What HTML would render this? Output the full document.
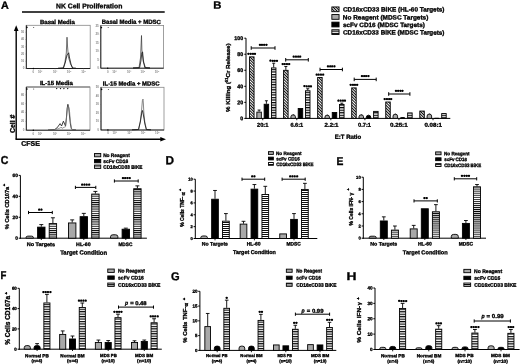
<!DOCTYPE html><html><head><meta charset="utf-8"><style>
html,body{margin:0;padding:0;background:#fff;width:520px;height:364px;overflow:hidden}
svg{display:block;filter:grayscale(1) blur(0.35px)} text{font-family:"Liberation Sans", sans-serif;font-weight:bold;stroke:#000;stroke-width:0.32px;paint-order:stroke}
</style></head><body>
<svg width="520" height="364" viewBox="0 0 520 364" xmlns="http://www.w3.org/2000/svg">
<defs>
<pattern id="hs" patternUnits="userSpaceOnUse" width="8" height="2.45" y="0"><rect width="8" height="2.45" fill="#fff"/><rect width="8" height="1.15" fill="#000"/></pattern><pattern id="hsB" patternUnits="userSpaceOnUse" width="8" height="2.55" y="0"><rect width="8" height="2.55" fill="#fff"/><rect width="8" height="1.20" fill="#000"/></pattern><pattern id="hsC" patternUnits="userSpaceOnUse" width="8" height="2.15" y="0"><rect width="8" height="2.15" fill="#fff"/><rect width="8" height="1.01" fill="#000"/></pattern><pattern id="hsD" patternUnits="userSpaceOnUse" width="8" height="2.0" y="0"><rect width="8" height="2.0" fill="#fff"/><rect width="8" height="0.94" fill="#000"/></pattern><pattern id="hsE" patternUnits="userSpaceOnUse" width="8" height="2.05" y="0"><rect width="8" height="2.05" fill="#fff"/><rect width="8" height="0.96" fill="#000"/></pattern><pattern id="hsF" patternUnits="userSpaceOnUse" width="8" height="2.45" y="0"><rect width="8" height="2.45" fill="#fff"/><rect width="8" height="1.15" fill="#000"/></pattern><pattern id="hsG" patternUnits="userSpaceOnUse" width="8" height="2.4" y="0"><rect width="8" height="2.4" fill="#fff"/><rect width="8" height="1.13" fill="#000"/></pattern><pattern id="hsH" patternUnits="userSpaceOnUse" width="8" height="2.47" y="0"><rect width="8" height="2.47" fill="#fff"/><rect width="8" height="1.16" fill="#000"/></pattern>
<pattern id="dh" patternUnits="userSpaceOnUse" width="2.0" height="2.0" patternTransform="rotate(-45)"><rect width="2.0" height="2.0" fill="#fff"/><rect width="0.95" height="2.0" fill="#000"/></pattern>
</defs>
<rect width="520" height="364" fill="#fff"/>

<text x="0.98" y="8.70" font-size="10.40" textLength="7.76" lengthAdjust="spacingAndGlyphs" transform="rotate(0.05 0.98 8.70)">A</text>
<line x1="22.00" y1="12.00" x2="164.70" y2="12.00" stroke="#000" stroke-width="1.3"/>
<text x="55.99" y="8.31" font-size="6.70" textLength="66.38" lengthAdjust="spacingAndGlyphs" transform="rotate(0.05 55.99 8.31)">NK Cell Proliferation</text>
<line x1="16.20" y1="30.00" x2="16.20" y2="139.20" stroke="#000" stroke-width="1.4"/>
<path d="M16.2,25.3 L13.9,31 L18.5,31 Z" fill="#000"/>
<line x1="15.50" y1="139.20" x2="161.00" y2="139.20" stroke="#000" stroke-width="1.4"/>
<path d="M166,139.2 L160.3,136.9 L160.3,141.5 Z" fill="#000"/>
<text x="0" y="0" font-size="6.50" textLength="18.49" lengthAdjust="spacingAndGlyphs" transform="translate(14.56,133.03) rotate(-90)">Cell #</text>
<text x="21.27" y="145.72" font-size="6.70" textLength="18.55" lengthAdjust="spacingAndGlyphs" transform="rotate(0.05 21.27 145.72)">CFSE</text>
<rect x="26.3" y="25.3" width="63.900000000000006" height="43.2" fill="none" stroke="#888" stroke-width="0.8"/>
<line x1="26.30" y1="25.30" x2="26.30" y2="68.50" stroke="#000" stroke-width="0.8"/>
<line x1="26.30" y1="68.50" x2="90.20" y2="68.50" stroke="#000" stroke-width="0.8"/>
<text x="39.94" y="23.93" font-size="5.90" textLength="34.86" lengthAdjust="spacingAndGlyphs" transform="rotate(0.05 39.94 23.93)">Basal Media</text>
<text x="24.30" y="69.40" font-size="3.0" text-anchor="end" fill="#888" style="stroke:none">0</text>
<line x1="25.30" y1="68.50" x2="26.30" y2="68.50" stroke="#666" stroke-width="0.4"/>
<text x="24.30" y="62.15" font-size="3.0" text-anchor="end" fill="#888" style="stroke:none">10</text>
<line x1="25.30" y1="61.25" x2="26.30" y2="61.25" stroke="#666" stroke-width="0.4"/>
<text x="24.30" y="54.90" font-size="3.0" text-anchor="end" fill="#888" style="stroke:none">20</text>
<line x1="25.30" y1="54.00" x2="26.30" y2="54.00" stroke="#666" stroke-width="0.4"/>
<text x="24.30" y="47.65" font-size="3.0" text-anchor="end" fill="#888" style="stroke:none">30</text>
<line x1="25.30" y1="46.75" x2="26.30" y2="46.75" stroke="#666" stroke-width="0.4"/>
<text x="24.30" y="40.40" font-size="3.0" text-anchor="end" fill="#888" style="stroke:none">40</text>
<line x1="25.30" y1="39.50" x2="26.30" y2="39.50" stroke="#666" stroke-width="0.4"/>
<text x="24.30" y="33.15" font-size="3.0" text-anchor="end" fill="#888" style="stroke:none">50</text>
<line x1="25.30" y1="32.25" x2="26.30" y2="32.25" stroke="#666" stroke-width="0.4"/>
<text x="33.33" y="72.90" font-size="2.9" text-anchor="middle" fill="#888" style="stroke:none">0</text>
<line x1="33.33" y1="68.50" x2="33.33" y2="69.40" stroke="#666" stroke-width="0.4"/>
<text x="40.04" y="72.90" font-size="2.9" text-anchor="middle" fill="#888" style="stroke:none">10²</text>
<line x1="40.04" y1="68.50" x2="40.04" y2="69.40" stroke="#666" stroke-width="0.4"/>
<text x="55.06" y="72.90" font-size="2.9" text-anchor="middle" fill="#888" style="stroke:none">10³</text>
<line x1="55.06" y1="68.50" x2="55.06" y2="69.40" stroke="#666" stroke-width="0.4"/>
<text x="69.11" y="72.90" font-size="2.9" text-anchor="middle" fill="#888" style="stroke:none">10⁴</text>
<line x1="69.11" y1="68.50" x2="69.11" y2="69.40" stroke="#666" stroke-width="0.4"/>
<text x="83.49" y="72.90" font-size="2.9" text-anchor="middle" fill="#888" style="stroke:none">10⁵</text>
<line x1="83.49" y1="68.50" x2="83.49" y2="69.40" stroke="#666" stroke-width="0.4"/>
<circle cx="26.900000000000002" cy="27.400000000000002" r="0.8" fill="#000"/>
<circle cx="33.7" cy="27.400000000000002" r="0.5" fill="#333"/>
<circle cx="33.329" cy="68.5" r="0.7" fill="#000"/>
<rect x="100.8" y="25.5" width="62.8" height="42.7" fill="none" stroke="#888" stroke-width="0.8"/>
<line x1="100.80" y1="25.50" x2="100.80" y2="68.20" stroke="#000" stroke-width="0.8"/>
<line x1="100.80" y1="68.20" x2="163.60" y2="68.20" stroke="#000" stroke-width="0.8"/>
<text x="101.75" y="23.83" font-size="5.90" textLength="59.17" lengthAdjust="spacingAndGlyphs" transform="rotate(0.05 101.75 23.83)">Basal Media + MDSC</text>
<text x="98.80" y="69.10" font-size="3.0" text-anchor="end" fill="#888" style="stroke:none">0</text>
<line x1="99.80" y1="68.20" x2="100.80" y2="68.20" stroke="#666" stroke-width="0.4"/>
<text x="98.80" y="60.60" font-size="3.0" text-anchor="end" fill="#888" style="stroke:none">5</text>
<line x1="99.80" y1="59.70" x2="100.80" y2="59.70" stroke="#666" stroke-width="0.4"/>
<text x="98.80" y="52.10" font-size="3.0" text-anchor="end" fill="#888" style="stroke:none">10</text>
<line x1="99.80" y1="51.20" x2="100.80" y2="51.20" stroke="#666" stroke-width="0.4"/>
<text x="98.80" y="43.60" font-size="3.0" text-anchor="end" fill="#888" style="stroke:none">15</text>
<line x1="99.80" y1="42.70" x2="100.80" y2="42.70" stroke="#666" stroke-width="0.4"/>
<text x="98.80" y="35.10" font-size="3.0" text-anchor="end" fill="#888" style="stroke:none">20</text>
<line x1="99.80" y1="34.20" x2="100.80" y2="34.20" stroke="#666" stroke-width="0.4"/>
<text x="98.80" y="26.60" font-size="3.0" text-anchor="end" fill="#888" style="stroke:none">25</text>
<line x1="99.80" y1="25.70" x2="100.80" y2="25.70" stroke="#666" stroke-width="0.4"/>
<text x="107.71" y="72.60" font-size="2.9" text-anchor="middle" fill="#888" style="stroke:none">0</text>
<line x1="107.71" y1="68.20" x2="107.71" y2="69.10" stroke="#666" stroke-width="0.4"/>
<text x="114.30" y="72.60" font-size="2.9" text-anchor="middle" fill="#888" style="stroke:none">10²</text>
<line x1="114.30" y1="68.20" x2="114.30" y2="69.10" stroke="#666" stroke-width="0.4"/>
<text x="129.06" y="72.60" font-size="2.9" text-anchor="middle" fill="#888" style="stroke:none">10³</text>
<line x1="129.06" y1="68.20" x2="129.06" y2="69.10" stroke="#666" stroke-width="0.4"/>
<text x="142.88" y="72.60" font-size="2.9" text-anchor="middle" fill="#888" style="stroke:none">10⁴</text>
<line x1="142.88" y1="68.20" x2="142.88" y2="69.10" stroke="#666" stroke-width="0.4"/>
<text x="157.01" y="72.60" font-size="2.9" text-anchor="middle" fill="#888" style="stroke:none">10⁵</text>
<line x1="157.01" y1="68.20" x2="157.01" y2="69.10" stroke="#666" stroke-width="0.4"/>
<circle cx="101.39999999999999" cy="27.6" r="0.8" fill="#000"/>
<circle cx="108.2" cy="27.6" r="0.5" fill="#333"/>
<circle cx="107.708" cy="68.2" r="0.7" fill="#000"/>
<line x1="26.30" y1="87.00" x2="90.00" y2="87.00" stroke="#666" stroke-width="1.0"/>
<rect x="26.3" y="87.0" width="63.7" height="43.19999999999999" fill="none" stroke="#888" stroke-width="0.8"/>
<line x1="26.30" y1="87.00" x2="26.30" y2="130.20" stroke="#000" stroke-width="0.8"/>
<line x1="26.30" y1="130.20" x2="90.00" y2="130.20" stroke="#000" stroke-width="0.8"/>
<text x="39.94" y="84.93" font-size="5.90" textLength="32.97" lengthAdjust="spacingAndGlyphs" transform="rotate(0.05 39.94 84.93)">IL-15 Media</text>
<text x="24.30" y="131.10" font-size="3.0" text-anchor="end" fill="#888" style="stroke:none">0</text>
<line x1="25.30" y1="130.20" x2="26.30" y2="130.20" stroke="#666" stroke-width="0.4"/>
<text x="24.30" y="122.25" font-size="3.0" text-anchor="end" fill="#888" style="stroke:none">20</text>
<line x1="25.30" y1="121.35" x2="26.30" y2="121.35" stroke="#666" stroke-width="0.4"/>
<text x="24.30" y="113.40" font-size="3.0" text-anchor="end" fill="#888" style="stroke:none">40</text>
<line x1="25.30" y1="112.50" x2="26.30" y2="112.50" stroke="#666" stroke-width="0.4"/>
<text x="24.30" y="104.55" font-size="3.0" text-anchor="end" fill="#888" style="stroke:none">60</text>
<line x1="25.30" y1="103.65" x2="26.30" y2="103.65" stroke="#666" stroke-width="0.4"/>
<text x="24.30" y="95.70" font-size="3.0" text-anchor="end" fill="#888" style="stroke:none">80</text>
<line x1="25.30" y1="94.80" x2="26.30" y2="94.80" stroke="#666" stroke-width="0.4"/>
<text x="33.31" y="134.60" font-size="2.9" text-anchor="middle" fill="#888" style="stroke:none">0</text>
<line x1="33.31" y1="130.20" x2="33.31" y2="131.10" stroke="#666" stroke-width="0.4"/>
<text x="40.00" y="134.60" font-size="2.9" text-anchor="middle" fill="#888" style="stroke:none">10²</text>
<line x1="40.00" y1="130.20" x2="40.00" y2="131.10" stroke="#666" stroke-width="0.4"/>
<text x="54.97" y="134.60" font-size="2.9" text-anchor="middle" fill="#888" style="stroke:none">10³</text>
<line x1="54.97" y1="130.20" x2="54.97" y2="131.10" stroke="#666" stroke-width="0.4"/>
<text x="68.98" y="134.60" font-size="2.9" text-anchor="middle" fill="#888" style="stroke:none">10⁴</text>
<line x1="68.98" y1="130.20" x2="68.98" y2="131.10" stroke="#666" stroke-width="0.4"/>
<text x="83.31" y="134.60" font-size="2.9" text-anchor="middle" fill="#888" style="stroke:none">10⁵</text>
<line x1="83.31" y1="130.20" x2="83.31" y2="131.10" stroke="#666" stroke-width="0.4"/>
<circle cx="26.900000000000002" cy="89.1" r="0.8" fill="#000"/>
<circle cx="33.7" cy="89.1" r="0.5" fill="#333"/>
<circle cx="33.307" cy="130.2" r="0.7" fill="#000"/>
<rect x="101.0" y="87.3" width="63.0" height="42.7" fill="none" stroke="#888" stroke-width="0.8"/>
<line x1="101.00" y1="87.30" x2="101.00" y2="130.00" stroke="#000" stroke-width="0.8"/>
<line x1="101.00" y1="130.00" x2="164.00" y2="130.00" stroke="#000" stroke-width="0.8"/>
<text x="102.85" y="85.43" font-size="5.90" textLength="56.77" lengthAdjust="spacingAndGlyphs" transform="rotate(0.05 102.85 85.43)">IL-15 Media + MDSC</text>
<text x="99.00" y="130.90" font-size="3.0" text-anchor="end" fill="#888" style="stroke:none">0</text>
<line x1="100.00" y1="130.00" x2="101.00" y2="130.00" stroke="#666" stroke-width="0.4"/>
<text x="99.00" y="122.40" font-size="3.0" text-anchor="end" fill="#888" style="stroke:none">10</text>
<line x1="100.00" y1="121.50" x2="101.00" y2="121.50" stroke="#666" stroke-width="0.4"/>
<text x="99.00" y="113.90" font-size="3.0" text-anchor="end" fill="#888" style="stroke:none">20</text>
<line x1="100.00" y1="113.00" x2="101.00" y2="113.00" stroke="#666" stroke-width="0.4"/>
<text x="99.00" y="105.40" font-size="3.0" text-anchor="end" fill="#888" style="stroke:none">30</text>
<line x1="100.00" y1="104.50" x2="101.00" y2="104.50" stroke="#666" stroke-width="0.4"/>
<text x="99.00" y="96.90" font-size="3.0" text-anchor="end" fill="#888" style="stroke:none">40</text>
<line x1="100.00" y1="96.00" x2="101.00" y2="96.00" stroke="#666" stroke-width="0.4"/>
<text x="99.00" y="88.40" font-size="3.0" text-anchor="end" fill="#888" style="stroke:none">50</text>
<line x1="100.00" y1="87.50" x2="101.00" y2="87.50" stroke="#666" stroke-width="0.4"/>
<text x="107.93" y="134.40" font-size="2.9" text-anchor="middle" fill="#888" style="stroke:none">0</text>
<line x1="107.93" y1="130.00" x2="107.93" y2="130.90" stroke="#666" stroke-width="0.4"/>
<text x="114.55" y="134.40" font-size="2.9" text-anchor="middle" fill="#888" style="stroke:none">10²</text>
<line x1="114.55" y1="130.00" x2="114.55" y2="130.90" stroke="#666" stroke-width="0.4"/>
<text x="129.35" y="134.40" font-size="2.9" text-anchor="middle" fill="#888" style="stroke:none">10³</text>
<line x1="129.35" y1="130.00" x2="129.35" y2="130.90" stroke="#666" stroke-width="0.4"/>
<text x="143.21" y="134.40" font-size="2.9" text-anchor="middle" fill="#888" style="stroke:none">10⁴</text>
<line x1="143.21" y1="130.00" x2="143.21" y2="130.90" stroke="#666" stroke-width="0.4"/>
<text x="157.38" y="134.40" font-size="2.9" text-anchor="middle" fill="#888" style="stroke:none">10⁵</text>
<line x1="157.38" y1="130.00" x2="157.38" y2="130.90" stroke="#666" stroke-width="0.4"/>
<circle cx="101.6" cy="89.39999999999999" r="0.8" fill="#000"/>
<circle cx="108.4" cy="89.39999999999999" r="0.5" fill="#333"/>
<circle cx="107.93" cy="130.0" r="0.7" fill="#000"/>
<path d="M58.00,68.30 L63.20,68.00 L64.80,63.00 L66.30,53.00 L67.00,37.20 L67.50,46.00 L68.40,57.00 L70.50,64.00 L72.60,68.00 L76.00,68.30" fill="none" stroke="#333" stroke-width="0.7" stroke-linejoin="round"/>
<path d="M58.00,68.30 L63.50,68.00 L65.40,62.00 L67.00,55.00 L68.70,52.80 L69.60,58.00 L71.00,64.20 L72.60,68.10 L76.00,68.30" fill="none" stroke="#111" stroke-width="0.8" stroke-linejoin="round"/>
<path d="M133.00,68.00 L139.00,67.70 L140.50,58.00 L141.50,35.50 L141.90,50.00 L143.30,62.00 L145.60,67.70 L150.00,68.00" fill="none" stroke="#333" stroke-width="0.7" stroke-linejoin="round"/>
<path d="M133.00,68.00 L139.60,67.70 L140.90,61.00 L141.90,52.50 L142.60,52.00 L143.30,60.00 L144.80,67.70 L150.00,68.00" fill="none" stroke="#111" stroke-width="0.8" stroke-linejoin="round"/>
<path d="M48.00,130.00 L54.70,129.50 L57.10,127.80 L60.10,123.60 L61.60,126.00 L63.40,121.20 L65.50,126.00 L66.40,118.00 L67.20,108.00 L67.90,104.30 L68.80,108.00 L69.50,116.00 L70.40,124.00 L71.30,128.70 L72.50,129.60 L76.00,130.00" fill="none" stroke="#111" stroke-width="0.8" stroke-linejoin="round"/>
<path d="M48.00,130.00 L55.00,129.60 L58.00,128.80 L60.50,127.80 L61.20,127.00 L62.00,128.40 L64.00,127.30 L65.50,126.80 L66.30,120.00 L67.40,108.00 L68.40,105.50 L69.60,112.00 L70.60,123.00 L71.80,129.50 L76.00,130.00" fill="none" stroke="#777" stroke-width="0.7" stroke-linejoin="round"/>
<path d="M132.00,129.80 L138.40,129.50 L140.20,122.00 L141.60,110.00 L142.40,100.50 L143.00,99.10 L143.40,104.00 L143.80,112.00 L144.80,122.00 L146.50,129.50 L151.00,129.80" fill="none" stroke="#555" stroke-width="0.7" stroke-linejoin="round"/>
<path d="M132.00,129.80 L138.60,129.50 L140.50,121.00 L141.90,112.00 L142.50,110.50 L143.20,114.00 L143.90,118.00 L144.90,124.00 L146.30,129.50 L151.00,129.80" fill="none" stroke="#111" stroke-width="0.8" stroke-linejoin="round"/>
<path d="M55.90,88.0 L57.50,88.0 L56.70,89.5 Z" fill="#000"/>
<path d="M59.70,88.0 L61.30,88.0 L60.50,89.5 Z" fill="#000"/>
<path d="M63.10,88.0 L64.70,88.0 L63.90,89.5 Z" fill="#000"/>
<path d="M66.90,88.0 L68.50,88.0 L67.70,89.5 Z" fill="#000"/>
<text x="213.29" y="8.46" font-size="10.20" textLength="8.17" lengthAdjust="spacingAndGlyphs" transform="rotate(0.05 213.29 8.46)">B</text>
<line x1="246.00" y1="38.20" x2="246.00" y2="118.90" stroke="#000" stroke-width="1.0"/>
<line x1="244.30" y1="118.40" x2="246.00" y2="118.40" stroke="#000" stroke-width="1.0"/>
<text x="240.27" y="120.22" font-size="5.30" transform="rotate(0.05 240.27 120.22)">0</text>
<line x1="244.30" y1="102.36" x2="246.00" y2="102.36" stroke="#000" stroke-width="1.0"/>
<text x="237.33" y="104.18" font-size="5.30" transform="rotate(0.05 237.33 104.18)">20</text>
<line x1="244.30" y1="86.32" x2="246.00" y2="86.32" stroke="#000" stroke-width="1.0"/>
<text x="237.33" y="88.14" font-size="5.30" transform="rotate(0.05 237.33 88.14)">40</text>
<line x1="244.30" y1="70.28" x2="246.00" y2="70.28" stroke="#000" stroke-width="1.0"/>
<text x="237.33" y="72.10" font-size="5.30" transform="rotate(0.05 237.33 72.10)">60</text>
<line x1="244.30" y1="54.24" x2="246.00" y2="54.24" stroke="#000" stroke-width="1.0"/>
<text x="237.33" y="56.06" font-size="5.30" transform="rotate(0.05 237.33 56.06)">80</text>
<line x1="244.30" y1="38.20" x2="246.00" y2="38.20" stroke="#000" stroke-width="1.0"/>
<text x="234.37" y="40.02" font-size="5.30" transform="rotate(0.05 234.37 40.02)">100</text>
<line x1="245.50" y1="118.40" x2="450.30" y2="118.40" stroke="#000" stroke-width="1.0"/>
<text x="0" y="0" font-size="6.0" transform="translate(229.90,111.95) rotate(-90) scale(1.0355,1)">% Killing (<tspan font-size="3.9" dy="-2.0">51</tspan><tspan dy="2.0">Cr Release)</tspan></text>
<rect x="249.55" y="56.86" width="4.50" height="61.54" fill="url(#dh)" stroke="#000" stroke-width="0.9"/>
<text x="247.61" y="56.31" font-size="4.80" letter-spacing="0.30" style="stroke-width:0.5px" transform="rotate(0.05 247.61 56.31)">****</text>
<rect x="256.85" y="112.11" width="4.50" height="6.29" fill="#a8a8a8" stroke="#000" stroke-width="0.9"/>
<line x1="259.10" y1="111.66" x2="259.10" y2="110.06" stroke="#000" stroke-width="0.9"/>
<line x1="257.60" y1="110.06" x2="260.60" y2="110.06" stroke="#000" stroke-width="0.9"/>
<rect x="264.15" y="104.25" width="4.50" height="14.15" fill="#000" stroke="#000" stroke-width="0.9"/>
<line x1="266.40" y1="103.80" x2="266.40" y2="100.76" stroke="#000" stroke-width="0.9"/>
<line x1="264.90" y1="100.76" x2="267.90" y2="100.76" stroke="#000" stroke-width="0.9"/>
<rect x="271.45" y="67.92" width="4.50" height="50.48" fill="url(#hsB)" stroke="#000" stroke-width="0.9"/>
<line x1="273.70" y1="67.47" x2="273.70" y2="63.22" stroke="#000" stroke-width="0.9"/>
<line x1="272.20" y1="63.22" x2="275.20" y2="63.22" stroke="#000" stroke-width="0.9"/>
<text x="269.51" y="63.13" font-size="4.80" letter-spacing="0.30" style="stroke-width:0.5px" transform="rotate(0.05 269.51 63.13)">****</text>
<line x1="262.75" y1="118.40" x2="262.75" y2="120.20" stroke="#000" stroke-width="0.9"/>
<text x="257.05" y="126.76" font-size="5.60" textLength="11.36" lengthAdjust="spacingAndGlyphs" transform="rotate(0.05 257.05 126.76)">20:1</text>
<rect x="283.60" y="70.33" width="4.50" height="48.07" fill="url(#dh)" stroke="#000" stroke-width="0.9"/>
<line x1="285.85" y1="69.88" x2="285.85" y2="66.51" stroke="#000" stroke-width="0.9"/>
<line x1="284.35" y1="66.51" x2="287.35" y2="66.51" stroke="#000" stroke-width="0.9"/>
<text x="281.66" y="66.42" font-size="4.80" letter-spacing="0.30" style="stroke-width:0.5px" transform="rotate(0.05 281.66 66.42)">****</text>
<path d="M290.90,118.40 L290.90,116.76 Q290.90,114.76 293.30,114.76 L293.00,114.76 Q295.40,114.76 295.40,116.76 L295.40,118.40 Z" fill="#a8a8a8" stroke="#000" stroke-width="0.9"/>
<rect x="298.20" y="108.50" width="4.50" height="9.90" fill="#000" stroke="#000" stroke-width="0.9"/>
<rect x="305.50" y="90.78" width="4.50" height="27.62" fill="url(#hsB)" stroke="#000" stroke-width="0.9"/>
<line x1="307.75" y1="90.33" x2="307.75" y2="88.73" stroke="#000" stroke-width="0.9"/>
<line x1="306.25" y1="88.73" x2="309.25" y2="88.73" stroke="#000" stroke-width="0.9"/>
<text x="303.56" y="88.63" font-size="4.80" letter-spacing="0.30" style="stroke-width:0.5px" transform="rotate(0.05 303.56 88.63)">****</text>
<line x1="296.80" y1="118.40" x2="296.80" y2="120.20" stroke="#000" stroke-width="0.9"/>
<text x="290.39" y="126.76" font-size="5.60" textLength="12.76" lengthAdjust="spacingAndGlyphs" transform="rotate(0.05 290.39 126.76)">6.6:1</text>
<rect x="317.65" y="77.47" width="4.50" height="40.93" fill="url(#dh)" stroke="#000" stroke-width="0.9"/>
<text x="315.71" y="76.92" font-size="4.80" letter-spacing="0.30" style="stroke-width:0.5px" transform="rotate(0.05 315.71 76.92)">****</text>
<path d="M324.95,118.40 L324.95,117.08 Q324.95,115.08 327.35,115.08 L327.05,115.08 Q329.45,115.08 329.45,117.08 L329.45,118.40 Z" fill="#a8a8a8" stroke="#000" stroke-width="0.9"/>
<rect x="332.25" y="112.51" width="4.50" height="5.89" fill="#000" stroke="#000" stroke-width="0.9"/>
<rect x="339.55" y="104.49" width="4.50" height="13.91" fill="url(#hsB)" stroke="#000" stroke-width="0.9"/>
<line x1="341.80" y1="104.04" x2="341.80" y2="103.16" stroke="#000" stroke-width="0.9"/>
<line x1="340.30" y1="103.16" x2="343.30" y2="103.16" stroke="#000" stroke-width="0.9"/>
<text x="337.61" y="103.07" font-size="4.80" letter-spacing="0.30" style="stroke-width:0.5px" transform="rotate(0.05 337.61 103.07)">****</text>
<line x1="330.85" y1="118.40" x2="330.85" y2="120.20" stroke="#000" stroke-width="0.9"/>
<text x="324.64" y="126.76" font-size="5.60" textLength="13.79" lengthAdjust="spacingAndGlyphs" transform="rotate(0.05 324.64 126.76)">2.2:1</text>
<rect x="351.70" y="87.89" width="4.50" height="30.51" fill="url(#dh)" stroke="#000" stroke-width="0.9"/>
<text x="349.76" y="87.35" font-size="4.80" letter-spacing="0.30" style="stroke-width:0.5px" transform="rotate(0.05 349.76 87.35)">****</text>
<path d="M359.00,118.40 L359.00,116.76 Q359.00,114.76 361.40,114.76 L361.10,114.76 Q363.50,114.76 363.50,116.76 L363.50,118.40 Z" fill="#a8a8a8" stroke="#000" stroke-width="0.9"/>
<path d="M366.30,118.40 L366.30,117.24 Q366.30,115.24 368.70,115.24 L368.40,115.24 Q370.80,115.24 370.80,117.24 L370.80,118.40 Z" fill="#000" stroke="#000" stroke-width="0.9"/>
<rect x="373.60" y="111.39" width="4.50" height="7.01" fill="url(#hsB)" stroke="#000" stroke-width="0.9"/>
<line x1="364.90" y1="118.40" x2="364.90" y2="120.20" stroke="#000" stroke-width="0.9"/>
<text x="358.02" y="126.76" font-size="5.60" textLength="12.89" lengthAdjust="spacingAndGlyphs" transform="rotate(0.05 358.02 126.76)">0.7:1</text>
<rect x="385.75" y="102.01" width="4.50" height="16.39" fill="url(#dh)" stroke="#000" stroke-width="0.9"/>
<text x="383.81" y="101.46" font-size="4.80" letter-spacing="0.30" style="stroke-width:0.5px" transform="rotate(0.05 383.81 101.46)">****</text>
<path d="M393.05,118.40 L393.05,116.12 Q393.05,114.12 395.45,114.12 L395.15,114.12 Q397.55,114.12 397.55,116.12 L397.55,118.40 Z" fill="#a8a8a8" stroke="#000" stroke-width="0.9"/>
<path d="M400.35,118.40 L400.35,118.34 Q400.35,117.57 401.27,117.57 L403.93,117.57 Q404.85,117.57 404.85,118.34 L404.85,118.40 Z" fill="#000" stroke="#000" stroke-width="0.9"/>
<rect x="407.65" y="112.92" width="4.50" height="5.48" fill="url(#hsB)" stroke="#000" stroke-width="0.9"/>
<line x1="398.95" y1="118.40" x2="398.95" y2="120.20" stroke="#000" stroke-width="0.9"/>
<text x="390.00" y="126.76" font-size="5.60" textLength="17.62" lengthAdjust="spacingAndGlyphs" transform="rotate(0.05 390.00 126.76)">0.25:1</text>
<rect x="419.80" y="111.07" width="4.50" height="7.33" fill="url(#dh)" stroke="#000" stroke-width="0.9"/>
<path d="M427.10,118.40 L427.10,116.04 Q427.10,114.04 429.50,114.04 L429.20,114.04 Q431.60,114.04 431.60,116.04 L431.60,118.40 Z" fill="#a8a8a8" stroke="#000" stroke-width="0.9"/>
<path d="M434.40,118.40 L434.40,118.73 Q434.40,118.37 434.83,118.37 L438.47,118.37 Q438.90,118.37 438.90,118.73 L438.90,118.40 Z" fill="#000" stroke="#000" stroke-width="0.9"/>
<rect x="441.70" y="113.56" width="4.50" height="4.84" fill="url(#hsB)" stroke="#000" stroke-width="0.9"/>
<line x1="433.00" y1="118.40" x2="433.00" y2="120.20" stroke="#000" stroke-width="0.9"/>
<text x="424.40" y="126.76" font-size="5.60" textLength="17.52" lengthAdjust="spacingAndGlyphs" transform="rotate(0.05 424.40 126.76)">0.08:1</text>
<text x="334.84" y="138.66" font-size="5.80" textLength="26.34" lengthAdjust="spacingAndGlyphs" transform="rotate(0.05 334.84 138.66)">E:T Ratio</text>
<line x1="251.20" y1="48.00" x2="275.00" y2="48.00" stroke="#000" stroke-width="1.0"/>
<line x1="251.20" y1="46.20" x2="251.20" y2="49.80" stroke="#000" stroke-width="1.0"/>
<line x1="275.00" y1="46.20" x2="275.00" y2="49.80" stroke="#000" stroke-width="1.0"/>
<text x="258.91" y="47.21" font-size="4.80" letter-spacing="0.30" style="stroke-width:0.5px" transform="rotate(0.05 258.91 47.21)">****</text>
<line x1="285.70" y1="59.80" x2="308.30" y2="59.80" stroke="#000" stroke-width="1.0"/>
<line x1="285.70" y1="58.00" x2="285.70" y2="61.60" stroke="#000" stroke-width="1.0"/>
<line x1="308.30" y1="58.00" x2="308.30" y2="61.60" stroke="#000" stroke-width="1.0"/>
<text x="292.81" y="59.01" font-size="4.80" letter-spacing="0.30" style="stroke-width:0.5px" transform="rotate(0.05 292.81 59.01)">****</text>
<line x1="320.00" y1="69.50" x2="342.40" y2="69.50" stroke="#000" stroke-width="1.0"/>
<line x1="320.00" y1="67.70" x2="320.00" y2="71.30" stroke="#000" stroke-width="1.0"/>
<line x1="342.40" y1="67.70" x2="342.40" y2="71.30" stroke="#000" stroke-width="1.0"/>
<text x="327.01" y="68.71" font-size="4.80" letter-spacing="0.30" style="stroke-width:0.5px" transform="rotate(0.05 327.01 68.71)">****</text>
<line x1="354.20" y1="79.40" x2="376.20" y2="79.40" stroke="#000" stroke-width="1.0"/>
<line x1="354.20" y1="77.60" x2="354.20" y2="81.20" stroke="#000" stroke-width="1.0"/>
<line x1="376.20" y1="77.60" x2="376.20" y2="81.20" stroke="#000" stroke-width="1.0"/>
<text x="361.01" y="78.61" font-size="4.80" letter-spacing="0.30" style="stroke-width:0.5px" transform="rotate(0.05 361.01 78.61)">****</text>
<line x1="388.70" y1="94.00" x2="409.90" y2="94.00" stroke="#000" stroke-width="1.0"/>
<line x1="388.70" y1="92.20" x2="388.70" y2="95.80" stroke="#000" stroke-width="1.0"/>
<line x1="409.90" y1="92.20" x2="409.90" y2="95.80" stroke="#000" stroke-width="1.0"/>
<text x="395.11" y="93.21" font-size="4.80" letter-spacing="0.30" style="stroke-width:0.5px" transform="rotate(0.05 395.11 93.21)">****</text>
<rect x="331.85" y="6.95" width="7.20" height="4.75" fill="url(#dh)" stroke="#000" stroke-width="0.9"/>
<text x="342.99" y="11.45" font-size="6.20" textLength="101.48" lengthAdjust="spacingAndGlyphs" transform="rotate(0.05 342.99 11.45)">CD16xCD33 BiKE (HL-60 Targets)</text>
<rect x="331.85" y="14.55" width="7.20" height="4.75" fill="#a8a8a8" stroke="#000" stroke-width="0.9"/>
<text x="342.81" y="19.55" font-size="6.20" textLength="85.56" lengthAdjust="spacingAndGlyphs" transform="rotate(0.05 342.81 19.55)">No Reagent (MDSC Targets)</text>
<rect x="331.85" y="22.15" width="7.20" height="4.75" fill="#000" stroke="#000" stroke-width="0.9"/>
<text x="343.03" y="27.05" font-size="6.20" textLength="81.85" lengthAdjust="spacingAndGlyphs" transform="rotate(0.05 343.03 27.05)">scFv CD16 (MDSC Targets)</text>
<rect x="331.85" y="29.75" width="7.20" height="4.75" fill="url(#hsB)" stroke="#000" stroke-width="0.9"/>
<text x="343.00" y="34.55" font-size="6.20" textLength="101.48" lengthAdjust="spacingAndGlyphs" transform="rotate(0.05 343.00 34.55)">CD16xCD33 BiKE (MDSC Targets)</text>
<text x="0.63" y="164.14" font-size="11.60" textLength="7.61" lengthAdjust="spacingAndGlyphs" transform="rotate(0.05 0.63 164.14)">C</text>
<line x1="20.40" y1="175.40" x2="20.40" y2="238.70" stroke="#000" stroke-width="1.0"/>
<line x1="18.70" y1="238.20" x2="20.40" y2="238.20" stroke="#000" stroke-width="1.0"/>
<text x="15.23" y="239.85" font-size="4.80" transform="rotate(0.05 15.23 239.85)">0</text>
<line x1="18.70" y1="217.27" x2="20.40" y2="217.27" stroke="#000" stroke-width="1.0"/>
<text x="12.56" y="218.92" font-size="4.80" transform="rotate(0.05 12.56 218.92)">20</text>
<line x1="18.70" y1="196.33" x2="20.40" y2="196.33" stroke="#000" stroke-width="1.0"/>
<text x="12.56" y="197.98" font-size="4.80" transform="rotate(0.05 12.56 197.98)">40</text>
<line x1="18.70" y1="175.40" x2="20.40" y2="175.40" stroke="#000" stroke-width="1.0"/>
<text x="12.56" y="177.05" font-size="4.80" transform="rotate(0.05 12.56 177.05)">60</text>
<line x1="19.90" y1="238.20" x2="146.90" y2="238.20" stroke="#000" stroke-width="1.0"/>
<path d="M26.00,238.20 L26.00,237.65 Q26.00,236.14 27.81,236.14 L31.59,236.14 Q33.40,236.14 33.40,237.65 L33.40,238.20 Z" fill="#a8a8a8" stroke="#000" stroke-width="0.9"/>
<rect x="37.60" y="227.14" width="7.40" height="11.06" fill="#000" stroke="#000" stroke-width="0.9"/>
<line x1="41.30" y1="226.69" x2="41.30" y2="224.59" stroke="#000" stroke-width="0.9"/>
<line x1="39.30" y1="224.59" x2="43.30" y2="224.59" stroke="#000" stroke-width="0.9"/>
<rect x="49.20" y="223.58" width="7.40" height="14.62" fill="url(#hsC)" stroke="#000" stroke-width="0.9"/>
<line x1="52.90" y1="223.13" x2="52.90" y2="217.79" stroke="#000" stroke-width="0.9"/>
<line x1="50.90" y1="217.79" x2="54.90" y2="217.79" stroke="#000" stroke-width="0.9"/>
<line x1="41.30" y1="238.20" x2="41.30" y2="240.00" stroke="#000" stroke-width="0.9"/>
<rect x="68.50" y="222.95" width="7.40" height="15.25" fill="#a8a8a8" stroke="#000" stroke-width="0.9"/>
<line x1="72.20" y1="222.50" x2="72.20" y2="219.88" stroke="#000" stroke-width="0.9"/>
<line x1="70.20" y1="219.88" x2="74.20" y2="219.88" stroke="#000" stroke-width="0.9"/>
<rect x="80.10" y="216.67" width="7.40" height="21.53" fill="#000" stroke="#000" stroke-width="0.9"/>
<line x1="83.80" y1="216.22" x2="83.80" y2="213.39" stroke="#000" stroke-width="0.9"/>
<line x1="81.80" y1="213.39" x2="85.80" y2="213.39" stroke="#000" stroke-width="0.9"/>
<rect x="91.70" y="194.06" width="7.40" height="44.14" fill="url(#hsC)" stroke="#000" stroke-width="0.9"/>
<line x1="95.40" y1="193.61" x2="95.40" y2="191.41" stroke="#000" stroke-width="0.9"/>
<line x1="93.40" y1="191.41" x2="97.40" y2="191.41" stroke="#000" stroke-width="0.9"/>
<line x1="83.80" y1="238.20" x2="83.80" y2="240.00" stroke="#000" stroke-width="0.9"/>
<path d="M110.50,238.20 L110.50,236.78 Q110.50,234.78 112.90,234.78 L115.50,234.78 Q117.90,234.78 117.90,236.78 L117.90,238.20 Z" fill="#a8a8a8" stroke="#000" stroke-width="0.9"/>
<rect x="122.10" y="229.23" width="7.40" height="8.97" fill="#000" stroke="#000" stroke-width="0.9"/>
<line x1="125.80" y1="228.78" x2="125.80" y2="228.15" stroke="#000" stroke-width="0.9"/>
<line x1="123.80" y1="228.15" x2="127.80" y2="228.15" stroke="#000" stroke-width="0.9"/>
<rect x="133.70" y="188.72" width="7.40" height="49.48" fill="url(#hsC)" stroke="#000" stroke-width="0.9"/>
<line x1="137.40" y1="188.27" x2="137.40" y2="185.87" stroke="#000" stroke-width="0.9"/>
<line x1="135.40" y1="185.87" x2="139.40" y2="185.87" stroke="#000" stroke-width="0.9"/>
<line x1="125.80" y1="238.20" x2="125.80" y2="240.00" stroke="#000" stroke-width="0.9"/>
<line x1="28.50" y1="212.50" x2="52.30" y2="212.50" stroke="#000" stroke-width="1.0"/>
<line x1="28.50" y1="210.90" x2="28.50" y2="214.10" stroke="#000" stroke-width="1.0"/>
<line x1="52.30" y1="210.90" x2="52.30" y2="214.10" stroke="#000" stroke-width="1.0"/>
<text x="38.30" y="212.01" font-size="4.80" letter-spacing="0.45" style="stroke-width:0.5px" transform="rotate(0.05 38.30 212.01)">**</text>
<line x1="75.40" y1="187.40" x2="95.80" y2="187.40" stroke="#000" stroke-width="1.0"/>
<line x1="75.40" y1="185.80" x2="75.40" y2="189.00" stroke="#000" stroke-width="1.0"/>
<line x1="95.80" y1="185.80" x2="95.80" y2="189.00" stroke="#000" stroke-width="1.0"/>
<text x="81.19" y="186.91" font-size="4.80" letter-spacing="0.45" style="stroke-width:0.5px" transform="rotate(0.05 81.19 186.91)">****</text>
<line x1="114.40" y1="181.00" x2="138.20" y2="181.00" stroke="#000" stroke-width="1.0"/>
<line x1="114.40" y1="179.40" x2="114.40" y2="182.60" stroke="#000" stroke-width="1.0"/>
<line x1="138.20" y1="179.40" x2="138.20" y2="182.60" stroke="#000" stroke-width="1.0"/>
<text x="121.89" y="180.51" font-size="4.80" letter-spacing="0.45" style="stroke-width:0.5px" transform="rotate(0.05 121.89 180.51)">****</text>
<text x="26.78" y="246.12" font-size="5.20" textLength="28.20" lengthAdjust="spacingAndGlyphs" transform="rotate(0.05 26.78 246.12)">No Targets</text>
<text x="76.09" y="246.04" font-size="5.00" textLength="14.67" lengthAdjust="spacingAndGlyphs" transform="rotate(0.05 76.09 246.04)">HL-60</text>
<text x="118.43" y="246.04" font-size="5.00" textLength="13.95" lengthAdjust="spacingAndGlyphs" transform="rotate(0.05 118.43 246.04)">MDSC</text>
<text x="60.19" y="254.60" font-size="6.00" textLength="46.81" lengthAdjust="spacingAndGlyphs" transform="rotate(0.05 60.19 254.60)">Target Condition</text>
<text x="0" y="0" font-size="5.70" textLength="42.41" lengthAdjust="spacingAndGlyphs" transform="translate(8.78,229.19) rotate(-90)">% Cells CD107a</text>
<text x="0" y="0" font-size="4.00" style="stroke-width:0.45px" transform="translate(5.38,186.37) rotate(-90)">+</text>
<rect x="94.55" y="153.45" width="6.20" height="3.35" fill="#a8a8a8" stroke="#000" stroke-width="0.9"/>
<text x="103.13" y="157.02" font-size="5.00" textLength="26.69" lengthAdjust="spacingAndGlyphs" transform="rotate(0.05 103.13 157.02)">No Reagent</text>
<rect x="94.55" y="159.45" width="6.20" height="3.35" fill="#000" stroke="#000" stroke-width="0.9"/>
<text x="103.28" y="163.04" font-size="5.00" textLength="24.95" lengthAdjust="spacingAndGlyphs" transform="rotate(0.05 103.28 163.04)">scFv CD16</text>
<rect x="94.55" y="165.05" width="6.20" height="3.35" fill="url(#hsC)" stroke="#000" stroke-width="0.9"/>
<text x="103.26" y="168.71" font-size="5.00" textLength="39.17" lengthAdjust="spacingAndGlyphs" transform="rotate(0.05 103.26 168.71)">CD16xCD33 BiKE</text>
<text x="165.46" y="164.22" font-size="11.60" textLength="8.49" lengthAdjust="spacingAndGlyphs" transform="rotate(0.05 165.46 164.22)">D</text>
<line x1="195.30" y1="179.20" x2="195.30" y2="239.00" stroke="#000" stroke-width="1.0"/>
<line x1="193.60" y1="238.50" x2="195.30" y2="238.50" stroke="#000" stroke-width="1.0"/>
<text x="190.54" y="239.88" font-size="4.00" transform="rotate(0.05 190.54 239.88)">0</text>
<line x1="193.60" y1="226.64" x2="195.30" y2="226.64" stroke="#000" stroke-width="1.0"/>
<text x="190.54" y="228.03" font-size="4.00" transform="rotate(0.05 190.54 228.03)">2</text>
<line x1="193.60" y1="214.78" x2="195.30" y2="214.78" stroke="#000" stroke-width="1.0"/>
<text x="190.40" y="216.16" font-size="4.00" transform="rotate(0.05 190.40 216.16)">4</text>
<line x1="193.60" y1="202.92" x2="195.30" y2="202.92" stroke="#000" stroke-width="1.0"/>
<text x="190.52" y="204.30" font-size="4.00" transform="rotate(0.05 190.52 204.30)">6</text>
<line x1="193.60" y1="191.06" x2="195.30" y2="191.06" stroke="#000" stroke-width="1.0"/>
<text x="190.50" y="192.44" font-size="4.00" transform="rotate(0.05 190.50 192.44)">8</text>
<line x1="193.60" y1="179.20" x2="195.30" y2="179.20" stroke="#000" stroke-width="1.0"/>
<text x="188.32" y="180.57" font-size="4.00" transform="rotate(0.05 188.32 180.57)">10</text>
<line x1="194.80" y1="238.50" x2="317.30" y2="238.50" stroke="#000" stroke-width="1.0"/>
<path d="M200.75,238.50 L200.75,237.76 Q200.75,235.98 202.88,235.98 L205.32,235.98 Q207.45,235.98 207.45,237.76 L207.45,238.50 Z" fill="#a8a8a8" stroke="#000" stroke-width="0.9"/>
<rect x="211.65" y="199.22" width="6.70" height="39.28" fill="#000" stroke="#000" stroke-width="0.9"/>
<line x1="215.00" y1="198.77" x2="215.00" y2="190.47" stroke="#000" stroke-width="0.9"/>
<line x1="213.10" y1="190.47" x2="216.90" y2="190.47" stroke="#000" stroke-width="0.9"/>
<rect x="222.55" y="221.16" width="6.70" height="17.34" fill="url(#hsD)" stroke="#000" stroke-width="0.9"/>
<line x1="225.90" y1="220.71" x2="225.90" y2="213.59" stroke="#000" stroke-width="0.9"/>
<line x1="224.00" y1="213.59" x2="227.80" y2="213.59" stroke="#000" stroke-width="0.9"/>
<line x1="215.00" y1="238.50" x2="215.00" y2="240.30" stroke="#000" stroke-width="0.9"/>
<rect x="240.15" y="224.12" width="6.70" height="14.37" fill="#a8a8a8" stroke="#000" stroke-width="0.9"/>
<line x1="243.50" y1="223.68" x2="243.50" y2="221.30" stroke="#000" stroke-width="0.9"/>
<line x1="241.60" y1="221.30" x2="245.40" y2="221.30" stroke="#000" stroke-width="0.9"/>
<rect x="251.05" y="189.14" width="6.70" height="49.36" fill="#000" stroke="#000" stroke-width="0.9"/>
<line x1="254.40" y1="188.69" x2="254.40" y2="184.54" stroke="#000" stroke-width="0.9"/>
<line x1="252.50" y1="184.54" x2="256.30" y2="184.54" stroke="#000" stroke-width="0.9"/>
<rect x="261.95" y="194.47" width="6.70" height="44.02" fill="url(#hsD)" stroke="#000" stroke-width="0.9"/>
<line x1="265.30" y1="194.03" x2="265.30" y2="186.32" stroke="#000" stroke-width="0.9"/>
<line x1="263.40" y1="186.32" x2="267.20" y2="186.32" stroke="#000" stroke-width="0.9"/>
<line x1="254.40" y1="238.50" x2="254.40" y2="240.30" stroke="#000" stroke-width="0.9"/>
<rect x="279.75" y="233.91" width="6.70" height="4.59" fill="#a8a8a8" stroke="#000" stroke-width="0.9"/>
<rect x="290.65" y="219.38" width="6.70" height="19.12" fill="#000" stroke="#000" stroke-width="0.9"/>
<line x1="294.00" y1="218.93" x2="294.00" y2="213.59" stroke="#000" stroke-width="0.9"/>
<line x1="292.10" y1="213.59" x2="295.90" y2="213.59" stroke="#000" stroke-width="0.9"/>
<rect x="301.55" y="189.43" width="6.70" height="49.07" fill="url(#hsD)" stroke="#000" stroke-width="0.9"/>
<line x1="304.90" y1="188.98" x2="304.90" y2="183.35" stroke="#000" stroke-width="0.9"/>
<line x1="303.00" y1="183.35" x2="306.80" y2="183.35" stroke="#000" stroke-width="0.9"/>
<line x1="294.00" y1="238.50" x2="294.00" y2="240.30" stroke="#000" stroke-width="0.9"/>
<line x1="242.00" y1="179.20" x2="264.70" y2="179.20" stroke="#000" stroke-width="1.0"/>
<line x1="242.00" y1="177.60" x2="242.00" y2="180.80" stroke="#000" stroke-width="1.0"/>
<line x1="264.70" y1="177.60" x2="264.70" y2="180.80" stroke="#000" stroke-width="1.0"/>
<text x="251.25" y="178.71" font-size="4.80" letter-spacing="0.45" style="stroke-width:0.5px" transform="rotate(0.05 251.25 178.71)">**</text>
<line x1="282.10" y1="179.20" x2="305.20" y2="179.20" stroke="#000" stroke-width="1.0"/>
<line x1="282.10" y1="177.60" x2="282.10" y2="180.80" stroke="#000" stroke-width="1.0"/>
<line x1="305.20" y1="177.60" x2="305.20" y2="180.80" stroke="#000" stroke-width="1.0"/>
<text x="289.24" y="178.71" font-size="4.80" letter-spacing="0.45" style="stroke-width:0.5px" transform="rotate(0.05 289.24 178.71)">****</text>
<text x="201.71" y="245.49" font-size="5.00" textLength="26.26" lengthAdjust="spacingAndGlyphs" transform="rotate(0.05 201.71 245.49)">No Targets</text>
<text x="246.71" y="245.54" font-size="5.00" textLength="13.94" lengthAdjust="spacingAndGlyphs" transform="rotate(0.05 246.71 245.54)">HL-60</text>
<text x="286.52" y="245.54" font-size="5.00" textLength="14.26" lengthAdjust="spacingAndGlyphs" transform="rotate(0.05 286.52 245.54)">MDSC</text>
<text x="233.10" y="254.01" font-size="5.60" textLength="42.78" lengthAdjust="spacingAndGlyphs" transform="rotate(0.05 233.10 254.01)">Target Condition</text>
<text x="0" y="0" font-size="5.00" textLength="30.22" lengthAdjust="spacingAndGlyphs" transform="translate(184.28,226.77) rotate(-90)">% Cells TNF-</text>
<text x="0" y="0" font-size="5.40" transform="translate(184.72,195.44) rotate(-90)">α</text>
<text x="0" y="0" font-size="3.80" style="stroke-width:0.45px" transform="translate(181.17,191.01) rotate(-90)">+</text>
<rect x="268.55" y="151.65" width="4.80" height="2.75" fill="#a8a8a8" stroke="#000" stroke-width="0.9"/>
<text x="276.04" y="154.98" font-size="4.90" textLength="25.57" lengthAdjust="spacingAndGlyphs" transform="rotate(0.05 276.04 154.98)">No Reagent</text>
<rect x="268.55" y="157.15" width="4.80" height="2.75" fill="#000" stroke="#000" stroke-width="0.9"/>
<text x="276.19" y="160.51" font-size="4.90" textLength="23.53" lengthAdjust="spacingAndGlyphs" transform="rotate(0.05 276.19 160.51)">scFv CD16</text>
<rect x="268.55" y="162.55" width="4.80" height="2.75" fill="url(#hsD)" stroke="#000" stroke-width="0.9"/>
<text x="276.17" y="165.98" font-size="4.90" textLength="37.35" lengthAdjust="spacingAndGlyphs" transform="rotate(0.05 276.17 165.98)">CD16xCD33 BiKE</text>
<text x="336.45" y="164.99" font-size="11.40" textLength="6.91" lengthAdjust="spacingAndGlyphs" transform="rotate(0.05 336.45 164.99)">E</text>
<line x1="363.30" y1="177.20" x2="363.30" y2="238.70" stroke="#000" stroke-width="1.0"/>
<line x1="361.60" y1="238.20" x2="363.30" y2="238.20" stroke="#000" stroke-width="1.0"/>
<text x="358.44" y="239.64" font-size="4.20" transform="rotate(0.05 358.44 239.64)">0</text>
<line x1="361.60" y1="226.00" x2="363.30" y2="226.00" stroke="#000" stroke-width="1.0"/>
<text x="358.44" y="227.46" font-size="4.20" transform="rotate(0.05 358.44 227.46)">2</text>
<line x1="361.60" y1="213.80" x2="363.30" y2="213.80" stroke="#000" stroke-width="1.0"/>
<text x="358.29" y="215.24" font-size="4.20" transform="rotate(0.05 358.29 215.24)">4</text>
<line x1="361.60" y1="201.60" x2="363.30" y2="201.60" stroke="#000" stroke-width="1.0"/>
<text x="358.42" y="203.04" font-size="4.20" transform="rotate(0.05 358.42 203.04)">6</text>
<line x1="361.60" y1="189.40" x2="363.30" y2="189.40" stroke="#000" stroke-width="1.0"/>
<text x="358.40" y="190.84" font-size="4.20" transform="rotate(0.05 358.40 190.84)">8</text>
<line x1="361.60" y1="177.20" x2="363.30" y2="177.20" stroke="#000" stroke-width="1.0"/>
<text x="356.11" y="178.64" font-size="4.20" transform="rotate(0.05 356.11 178.64)">10</text>
<line x1="362.80" y1="238.20" x2="486.00" y2="238.20" stroke="#000" stroke-width="1.0"/>
<path d="M369.20,238.20 L369.20,237.67 Q369.20,236.21 370.96,236.21 L374.44,236.21 Q376.20,236.21 376.20,237.67 L376.20,238.20 Z" fill="#a8a8a8" stroke="#000" stroke-width="0.9"/>
<rect x="380.30" y="220.96" width="7.00" height="17.24" fill="#000" stroke="#000" stroke-width="0.9"/>
<line x1="383.80" y1="220.51" x2="383.80" y2="216.85" stroke="#000" stroke-width="0.9"/>
<line x1="381.90" y1="216.85" x2="385.70" y2="216.85" stroke="#000" stroke-width="0.9"/>
<rect x="391.40" y="230.11" width="7.00" height="8.09" fill="url(#hsE)" stroke="#000" stroke-width="0.9"/>
<line x1="394.90" y1="229.66" x2="394.90" y2="226.00" stroke="#000" stroke-width="0.9"/>
<line x1="393.00" y1="226.00" x2="396.80" y2="226.00" stroke="#000" stroke-width="0.9"/>
<line x1="383.80" y1="238.20" x2="383.80" y2="240.00" stroke="#000" stroke-width="0.9"/>
<rect x="410.20" y="228.89" width="7.00" height="9.31" fill="#a8a8a8" stroke="#000" stroke-width="0.9"/>
<line x1="413.70" y1="228.44" x2="413.70" y2="225.39" stroke="#000" stroke-width="0.9"/>
<line x1="411.80" y1="225.39" x2="415.60" y2="225.39" stroke="#000" stroke-width="0.9"/>
<rect x="421.30" y="208.76" width="7.00" height="29.44" fill="#000" stroke="#000" stroke-width="0.9"/>
<rect x="432.40" y="211.81" width="7.00" height="26.39" fill="url(#hsE)" stroke="#000" stroke-width="0.9"/>
<line x1="435.90" y1="211.36" x2="435.90" y2="204.65" stroke="#000" stroke-width="0.9"/>
<line x1="434.00" y1="204.65" x2="437.80" y2="204.65" stroke="#000" stroke-width="0.9"/>
<line x1="424.80" y1="238.20" x2="424.80" y2="240.00" stroke="#000" stroke-width="0.9"/>
<path d="M451.30,238.20 L451.30,236.38 Q451.30,234.38 453.70,234.38 L455.90,234.38 Q458.30,234.38 458.30,236.38 L458.30,238.20 Z" fill="#a8a8a8" stroke="#000" stroke-width="0.9"/>
<rect x="462.40" y="223.40" width="7.00" height="14.80" fill="#000" stroke="#000" stroke-width="0.9"/>
<line x1="465.90" y1="222.95" x2="465.90" y2="220.51" stroke="#000" stroke-width="0.9"/>
<line x1="464.00" y1="220.51" x2="467.80" y2="220.51" stroke="#000" stroke-width="0.9"/>
<rect x="473.50" y="186.80" width="7.00" height="51.40" fill="url(#hsE)" stroke="#000" stroke-width="0.9"/>
<line x1="477.00" y1="186.35" x2="477.00" y2="184.52" stroke="#000" stroke-width="0.9"/>
<line x1="475.10" y1="184.52" x2="478.90" y2="184.52" stroke="#000" stroke-width="0.9"/>
<line x1="465.90" y1="238.20" x2="465.90" y2="240.00" stroke="#000" stroke-width="0.9"/>
<line x1="414.00" y1="200.90" x2="437.30" y2="200.90" stroke="#000" stroke-width="1.0"/>
<line x1="414.00" y1="199.30" x2="414.00" y2="202.50" stroke="#000" stroke-width="1.0"/>
<line x1="437.30" y1="199.30" x2="437.30" y2="202.50" stroke="#000" stroke-width="1.0"/>
<text x="423.55" y="200.41" font-size="4.80" letter-spacing="0.45" style="stroke-width:0.5px" transform="rotate(0.05 423.55 200.41)">**</text>
<line x1="454.30" y1="178.80" x2="476.70" y2="178.80" stroke="#000" stroke-width="1.0"/>
<line x1="454.30" y1="177.20" x2="454.30" y2="180.40" stroke="#000" stroke-width="1.0"/>
<line x1="476.70" y1="177.20" x2="476.70" y2="180.40" stroke="#000" stroke-width="1.0"/>
<text x="461.09" y="178.31" font-size="4.80" letter-spacing="0.45" style="stroke-width:0.5px" transform="rotate(0.05 461.09 178.31)">****</text>
<text x="370.30" y="245.49" font-size="5.00" textLength="26.97" lengthAdjust="spacingAndGlyphs" transform="rotate(0.05 370.30 245.49)">No Targets</text>
<text x="418.01" y="245.54" font-size="5.00" textLength="13.84" lengthAdjust="spacingAndGlyphs" transform="rotate(0.05 418.01 245.54)">HL-60</text>
<text x="458.72" y="245.54" font-size="5.00" textLength="14.46" lengthAdjust="spacingAndGlyphs" transform="rotate(0.05 458.72 245.54)">MDSC</text>
<text x="402.89" y="254.31" font-size="5.60" textLength="44.90" lengthAdjust="spacingAndGlyphs" transform="rotate(0.05 402.89 254.31)">Target Condition</text>
<text x="0" y="0" font-size="5.00" textLength="28.63" lengthAdjust="spacingAndGlyphs" transform="translate(352.77,225.47) rotate(-90)">% Cells IFN-</text>
<text x="0" y="0" font-size="5.20" transform="translate(352.93,195.50) rotate(-90)">γ</text>
<text x="0" y="0" font-size="3.80" style="stroke-width:0.45px" transform="translate(349.17,190.61) rotate(-90)">+</text>
<rect x="435.65" y="151.90" width="5.40" height="2.85" fill="#a8a8a8" stroke="#000" stroke-width="0.9"/>
<text x="444.04" y="155.18" font-size="4.90" textLength="25.57" lengthAdjust="spacingAndGlyphs" transform="rotate(0.05 444.04 155.18)">No Reagent</text>
<rect x="435.65" y="157.80" width="5.40" height="2.85" fill="#000" stroke="#000" stroke-width="0.9"/>
<text x="444.19" y="161.11" font-size="4.90" textLength="22.82" lengthAdjust="spacingAndGlyphs" transform="rotate(0.05 444.19 161.11)">scFv CD16</text>
<rect x="435.65" y="163.60" width="5.40" height="2.85" fill="url(#hsE)" stroke="#000" stroke-width="0.9"/>
<text x="444.17" y="166.98" font-size="4.90" textLength="37.05" lengthAdjust="spacingAndGlyphs" transform="rotate(0.05 444.17 166.98)">CD16xCD33 BiKE</text>
<text x="0.50" y="278.99" font-size="11.40" textLength="5.90" lengthAdjust="spacingAndGlyphs" transform="rotate(0.05 0.50 278.99)">F</text>
<line x1="19.30" y1="288.30" x2="19.30" y2="349.70" stroke="#000" stroke-width="1.0"/>
<line x1="17.60" y1="349.20" x2="19.30" y2="349.20" stroke="#000" stroke-width="1.0"/>
<text x="14.33" y="350.71" font-size="4.40" transform="rotate(0.05 14.33 350.71)">0</text>
<line x1="17.60" y1="328.90" x2="19.30" y2="328.90" stroke="#000" stroke-width="1.0"/>
<text x="11.89" y="330.41" font-size="4.40" transform="rotate(0.05 11.89 330.41)">20</text>
<line x1="17.60" y1="308.60" x2="19.30" y2="308.60" stroke="#000" stroke-width="1.0"/>
<text x="11.89" y="310.11" font-size="4.40" transform="rotate(0.05 11.89 310.11)">40</text>
<line x1="17.60" y1="288.30" x2="19.30" y2="288.30" stroke="#000" stroke-width="1.0"/>
<text x="11.89" y="289.81" font-size="4.40" transform="rotate(0.05 11.89 289.81)">60</text>
<line x1="18.80" y1="349.20" x2="161.80" y2="349.20" stroke="#000" stroke-width="1.0"/>
<path d="M24.25,349.20 L24.25,347.59 Q24.25,345.59 26.65,345.59 L27.95,345.59 Q30.35,345.59 30.35,347.59 L30.35,349.20 Z" fill="#a8a8a8" stroke="#000" stroke-width="0.9"/>
<path d="M34.05,349.20 L34.05,347.59 Q34.05,345.59 36.45,345.59 L37.75,345.59 Q40.15,345.59 40.15,347.59 L40.15,349.20 Z" fill="#000" stroke="#000" stroke-width="0.9"/>
<line x1="37.10" y1="345.14" x2="37.10" y2="343.62" stroke="#000" stroke-width="0.9"/>
<line x1="35.20" y1="343.62" x2="39.00" y2="343.62" stroke="#000" stroke-width="0.9"/>
<rect x="43.85" y="302.96" width="6.10" height="46.24" fill="url(#hsF)" stroke="#000" stroke-width="0.9"/>
<line x1="46.90" y1="302.51" x2="46.90" y2="294.39" stroke="#000" stroke-width="0.9"/>
<line x1="45.00" y1="294.39" x2="48.80" y2="294.39" stroke="#000" stroke-width="0.9"/>
<text x="42.49" y="294.40" font-size="4.80" letter-spacing="0.45" style="stroke-width:0.5px" transform="rotate(0.05 42.49 294.40)">****</text>
<line x1="37.10" y1="349.20" x2="37.10" y2="351.00" stroke="#000" stroke-width="0.9"/>
<rect x="59.65" y="334.42" width="6.10" height="14.78" fill="#a8a8a8" stroke="#000" stroke-width="0.9"/>
<line x1="62.70" y1="333.97" x2="62.70" y2="330.93" stroke="#000" stroke-width="0.9"/>
<line x1="60.80" y1="330.93" x2="64.60" y2="330.93" stroke="#000" stroke-width="0.9"/>
<rect x="69.45" y="338.99" width="6.10" height="10.21" fill="#000" stroke="#000" stroke-width="0.9"/>
<line x1="72.50" y1="338.54" x2="72.50" y2="336.00" stroke="#000" stroke-width="0.9"/>
<line x1="70.60" y1="336.00" x2="74.40" y2="336.00" stroke="#000" stroke-width="0.9"/>
<rect x="79.25" y="307.53" width="6.10" height="41.67" fill="url(#hsF)" stroke="#000" stroke-width="0.9"/>
<line x1="82.30" y1="307.08" x2="82.30" y2="303.02" stroke="#000" stroke-width="0.9"/>
<line x1="80.40" y1="303.02" x2="84.20" y2="303.02" stroke="#000" stroke-width="0.9"/>
<text x="77.89" y="303.02" font-size="4.80" letter-spacing="0.45" style="stroke-width:0.5px" transform="rotate(0.05 77.89 303.02)">****</text>
<line x1="72.50" y1="349.20" x2="72.50" y2="351.00" stroke="#000" stroke-width="0.9"/>
<rect x="95.35" y="342.54" width="6.10" height="6.66" fill="#a8a8a8" stroke="#000" stroke-width="0.9"/>
<line x1="98.40" y1="342.09" x2="98.40" y2="340.06" stroke="#000" stroke-width="0.9"/>
<line x1="96.50" y1="340.06" x2="100.30" y2="340.06" stroke="#000" stroke-width="0.9"/>
<rect x="105.15" y="342.54" width="6.10" height="6.66" fill="#000" stroke="#000" stroke-width="0.9"/>
<line x1="108.20" y1="342.09" x2="108.20" y2="340.57" stroke="#000" stroke-width="0.9"/>
<line x1="106.30" y1="340.57" x2="110.10" y2="340.57" stroke="#000" stroke-width="0.9"/>
<rect x="114.95" y="317.68" width="6.10" height="31.52" fill="url(#hsF)" stroke="#000" stroke-width="0.9"/>
<line x1="118.00" y1="317.23" x2="118.00" y2="314.18" stroke="#000" stroke-width="0.9"/>
<line x1="116.10" y1="314.18" x2="119.90" y2="314.18" stroke="#000" stroke-width="0.9"/>
<text x="113.59" y="314.19" font-size="4.80" letter-spacing="0.45" style="stroke-width:0.5px" transform="rotate(0.05 113.59 314.19)">****</text>
<line x1="108.20" y1="349.20" x2="108.20" y2="351.00" stroke="#000" stroke-width="0.9"/>
<rect x="131.45" y="342.54" width="6.10" height="6.66" fill="#a8a8a8" stroke="#000" stroke-width="0.9"/>
<line x1="134.50" y1="342.09" x2="134.50" y2="340.78" stroke="#000" stroke-width="0.9"/>
<line x1="132.60" y1="340.78" x2="136.40" y2="340.78" stroke="#000" stroke-width="0.9"/>
<rect x="141.25" y="341.53" width="6.10" height="7.67" fill="#000" stroke="#000" stroke-width="0.9"/>
<line x1="144.30" y1="341.08" x2="144.30" y2="340.06" stroke="#000" stroke-width="0.9"/>
<line x1="142.40" y1="340.06" x2="146.20" y2="340.06" stroke="#000" stroke-width="0.9"/>
<rect x="151.05" y="322.75" width="6.10" height="26.45" fill="url(#hsF)" stroke="#000" stroke-width="0.9"/>
<line x1="154.10" y1="322.30" x2="154.10" y2="318.75" stroke="#000" stroke-width="0.9"/>
<line x1="152.20" y1="318.75" x2="156.00" y2="318.75" stroke="#000" stroke-width="0.9"/>
<text x="149.69" y="318.76" font-size="4.80" letter-spacing="0.45" style="stroke-width:0.5px" transform="rotate(0.05 149.69 318.76)">****</text>
<line x1="144.30" y1="349.20" x2="144.30" y2="351.00" stroke="#000" stroke-width="0.9"/>
<line x1="118.50" y1="307.10" x2="153.50" y2="307.10" stroke="#000" stroke-width="1.0"/>
<line x1="118.50" y1="305.50" x2="118.50" y2="308.70" stroke="#000" stroke-width="1.0"/>
<line x1="153.50" y1="305.50" x2="153.50" y2="308.70" stroke="#000" stroke-width="1.0"/>
<text x="125.12" y="304.82" font-size="5.50" textLength="3.15" lengthAdjust="spacingAndGlyphs" font-style="italic" transform="rotate(0.05 125.12 304.82)">p</text>
<text x="130.20" y="304.89" font-size="5.50" textLength="16.43" lengthAdjust="spacingAndGlyphs" transform="rotate(0.05 130.20 304.89)">= 0.48</text>
<text x="25.04" y="357.14" font-size="4.40" textLength="23.82" lengthAdjust="spacingAndGlyphs" transform="rotate(0.05 25.04 357.14)">Normal PB</text>
<text x="31.43" y="362.24" font-size="4.40" textLength="10.74" lengthAdjust="spacingAndGlyphs" transform="rotate(0.05 31.43 362.24)">(n=4)</text>
<text x="60.34" y="357.14" font-size="4.40" textLength="24.33" lengthAdjust="spacingAndGlyphs" transform="rotate(0.05 60.34 357.14)">Normal BM</text>
<text x="67.12" y="362.24" font-size="4.40" textLength="10.95" lengthAdjust="spacingAndGlyphs" transform="rotate(0.05 67.12 362.24)">(n=4)</text>
<text x="100.06" y="357.02" font-size="4.40" textLength="16.78" lengthAdjust="spacingAndGlyphs" transform="rotate(0.05 100.06 357.02)">MDS PB</text>
<text x="101.42" y="362.24" font-size="4.40" textLength="13.46" lengthAdjust="spacingAndGlyphs" transform="rotate(0.05 101.42 362.24)">(n=10)</text>
<text x="135.05" y="357.02" font-size="4.40" textLength="18.31" lengthAdjust="spacingAndGlyphs" transform="rotate(0.05 135.05 357.02)">MDS BM</text>
<text x="137.11" y="362.24" font-size="4.40" textLength="14.08" lengthAdjust="spacingAndGlyphs" transform="rotate(0.05 137.11 362.24)">(n=10)</text>
<text x="0" y="0" font-size="6.60" textLength="48.82" lengthAdjust="spacingAndGlyphs" transform="translate(10.04,344.81) rotate(-90)">% Cells CD107a</text>
<text x="0" y="0" font-size="4.40" style="stroke-width:0.45px" transform="translate(7.27,294.59) rotate(-90)">+</text>
<rect x="107.75" y="269.05" width="6.50" height="3.35" fill="#a8a8a8" stroke="#000" stroke-width="0.9"/>
<text x="117.92" y="272.59" font-size="5.20" textLength="26.89" lengthAdjust="spacingAndGlyphs" transform="rotate(0.05 117.92 272.59)">No Reagent</text>
<rect x="107.75" y="275.95" width="6.50" height="3.35" fill="#000" stroke="#000" stroke-width="0.9"/>
<text x="118.07" y="279.51" font-size="5.20" textLength="25.76" lengthAdjust="spacingAndGlyphs" transform="rotate(0.05 118.07 279.51)">scFv CD16</text>
<rect x="107.75" y="283.05" width="6.50" height="3.35" fill="url(#hsF)" stroke="#000" stroke-width="0.9"/>
<text x="118.05" y="286.69" font-size="5.20" textLength="42.30" lengthAdjust="spacingAndGlyphs" transform="rotate(0.05 118.05 286.69)">CD16xCD33 BiKE</text>
<text x="171.11" y="280.34" font-size="11.60" textLength="8.64" lengthAdjust="spacingAndGlyphs" transform="rotate(0.05 171.11 280.34)">G</text>
<line x1="199.90" y1="291.30" x2="199.90" y2="350.90" stroke="#000" stroke-width="1.0"/>
<line x1="198.20" y1="350.40" x2="199.90" y2="350.40" stroke="#000" stroke-width="1.0"/>
<text x="194.93" y="351.91" font-size="4.40" transform="rotate(0.05 194.93 351.91)">0</text>
<line x1="198.20" y1="335.62" x2="199.90" y2="335.62" stroke="#000" stroke-width="1.0"/>
<text x="194.88" y="337.12" font-size="4.40" transform="rotate(0.05 194.88 337.12)">5</text>
<line x1="198.20" y1="320.85" x2="199.90" y2="320.85" stroke="#000" stroke-width="1.0"/>
<text x="192.49" y="322.36" font-size="4.40" transform="rotate(0.05 192.49 322.36)">10</text>
<line x1="198.20" y1="306.07" x2="199.90" y2="306.07" stroke="#000" stroke-width="1.0"/>
<text x="192.44" y="307.57" font-size="4.40" transform="rotate(0.05 192.44 307.57)">15</text>
<line x1="198.20" y1="291.30" x2="199.90" y2="291.30" stroke="#000" stroke-width="1.0"/>
<text x="192.49" y="292.81" font-size="4.40" transform="rotate(0.05 192.49 292.81)">20</text>
<line x1="199.40" y1="350.40" x2="336.30" y2="350.40" stroke="#000" stroke-width="1.0"/>
<rect x="204.85" y="326.62" width="5.70" height="23.78" fill="#a8a8a8" stroke="#000" stroke-width="0.9"/>
<line x1="207.70" y1="326.17" x2="207.70" y2="313.46" stroke="#000" stroke-width="0.9"/>
<line x1="205.90" y1="313.46" x2="209.50" y2="313.46" stroke="#000" stroke-width="0.9"/>
<path d="M214.35,350.40 L214.35,348.12 Q214.35,346.12 216.75,346.12 L217.65,346.12 Q220.05,346.12 220.05,348.12 L220.05,350.40 Z" fill="#000" stroke="#000" stroke-width="0.9"/>
<rect x="223.85" y="308.30" width="5.70" height="42.10" fill="url(#hsG)" stroke="#000" stroke-width="0.9"/>
<line x1="226.70" y1="307.85" x2="226.70" y2="300.16" stroke="#000" stroke-width="0.9"/>
<line x1="224.90" y1="300.16" x2="228.50" y2="300.16" stroke="#000" stroke-width="0.9"/>
<text x="225.76" y="300.17" font-size="4.80" letter-spacing="0.45" style="stroke-width:0.5px" transform="rotate(0.05 225.76 300.17)">*</text>
<line x1="217.20" y1="350.40" x2="217.20" y2="352.20" stroke="#000" stroke-width="0.9"/>
<path d="M239.05,350.40 L239.05,348.12 Q239.05,346.12 241.45,346.12 L242.35,346.12 Q244.75,346.12 244.75,348.12 L244.75,350.40 Z" fill="#a8a8a8" stroke="#000" stroke-width="0.9"/>
<path d="M248.55,350.40 L248.55,348.12 Q248.55,346.12 250.95,346.12 L251.85,346.12 Q254.25,346.12 254.25,348.12 L254.25,350.40 Z" fill="#000" stroke="#000" stroke-width="0.9"/>
<rect x="258.05" y="320.41" width="5.70" height="29.99" fill="url(#hsG)" stroke="#000" stroke-width="0.9"/>
<line x1="260.90" y1="319.96" x2="260.90" y2="314.35" stroke="#000" stroke-width="0.9"/>
<line x1="259.10" y1="314.35" x2="262.70" y2="314.35" stroke="#000" stroke-width="0.9"/>
<text x="258.80" y="314.36" font-size="4.80" letter-spacing="0.45" style="stroke-width:0.5px" transform="rotate(0.05 258.80 314.36)">**</text>
<line x1="251.40" y1="350.40" x2="251.40" y2="352.20" stroke="#000" stroke-width="0.9"/>
<rect x="273.45" y="344.94" width="5.70" height="5.46" fill="#a8a8a8" stroke="#000" stroke-width="0.9"/>
<rect x="282.95" y="345.83" width="5.70" height="4.57" fill="#000" stroke="#000" stroke-width="0.9"/>
<rect x="292.45" y="329.28" width="5.70" height="21.12" fill="url(#hsG)" stroke="#000" stroke-width="0.9"/>
<line x1="295.30" y1="328.83" x2="295.30" y2="325.28" stroke="#000" stroke-width="0.9"/>
<line x1="293.50" y1="325.28" x2="297.10" y2="325.28" stroke="#000" stroke-width="0.9"/>
<text x="293.20" y="325.29" font-size="4.80" letter-spacing="0.45" style="stroke-width:0.5px" transform="rotate(0.05 293.20 325.29)">**</text>
<line x1="285.80" y1="350.40" x2="285.80" y2="352.20" stroke="#000" stroke-width="0.9"/>
<rect x="307.65" y="344.64" width="5.70" height="5.76" fill="#a8a8a8" stroke="#000" stroke-width="0.9"/>
<rect x="317.15" y="344.94" width="5.70" height="5.46" fill="#000" stroke="#000" stroke-width="0.9"/>
<rect x="326.65" y="327.51" width="5.70" height="22.89" fill="url(#hsG)" stroke="#000" stroke-width="0.9"/>
<line x1="329.50" y1="327.06" x2="329.50" y2="322.33" stroke="#000" stroke-width="0.9"/>
<line x1="327.70" y1="322.33" x2="331.30" y2="322.33" stroke="#000" stroke-width="0.9"/>
<text x="326.25" y="322.33" font-size="4.80" letter-spacing="0.45" style="stroke-width:0.5px" transform="rotate(0.05 326.25 322.33)">***</text>
<line x1="320.00" y1="350.40" x2="320.00" y2="352.20" stroke="#000" stroke-width="0.9"/>
<line x1="295.40" y1="314.20" x2="329.60" y2="314.20" stroke="#000" stroke-width="1.0"/>
<line x1="295.40" y1="312.60" x2="295.40" y2="315.80" stroke="#000" stroke-width="1.0"/>
<line x1="329.60" y1="312.60" x2="329.60" y2="315.80" stroke="#000" stroke-width="1.0"/>
<text x="301.62" y="312.57" font-size="5.60" textLength="3.15" lengthAdjust="spacingAndGlyphs" font-style="italic" transform="rotate(0.05 301.62 312.57)">p</text>
<text x="306.80" y="312.66" font-size="5.60" textLength="16.66" lengthAdjust="spacingAndGlyphs" transform="rotate(0.05 306.80 312.66)">= 0.99</text>
<text x="206.07" y="357.07" font-size="4.30" textLength="21.47" lengthAdjust="spacingAndGlyphs" transform="rotate(0.05 206.07 357.07)">Normal PB</text>
<text x="211.84" y="362.57" font-size="4.30" textLength="10.33" lengthAdjust="spacingAndGlyphs" transform="rotate(0.05 211.84 362.57)">(n=4)</text>
<text x="240.37" y="357.07" font-size="4.30" textLength="22.27" lengthAdjust="spacingAndGlyphs" transform="rotate(0.05 240.37 357.07)">Normal BM</text>
<text x="246.44" y="362.57" font-size="4.30" textLength="10.01" lengthAdjust="spacingAndGlyphs" transform="rotate(0.05 246.44 362.57)">(n=4)</text>
<text x="277.39" y="356.95" font-size="4.30" textLength="14.72" lengthAdjust="spacingAndGlyphs" transform="rotate(0.05 277.39 356.95)">MDS PB</text>
<text x="279.24" y="362.57" font-size="4.30" textLength="12.52" lengthAdjust="spacingAndGlyphs" transform="rotate(0.05 279.24 362.57)">(n=10)</text>
<text x="310.95" y="356.95" font-size="4.30" textLength="18.31" lengthAdjust="spacingAndGlyphs" transform="rotate(0.05 310.95 356.95)">MDS BM</text>
<text x="313.74" y="362.57" font-size="4.30" textLength="12.73" lengthAdjust="spacingAndGlyphs" transform="rotate(0.05 313.74 362.57)">(n=10)</text>
<text x="0" y="0" font-size="6.00" textLength="36.08" lengthAdjust="spacingAndGlyphs" transform="translate(186.90,342.70) rotate(-90)">% Cells TNF-</text>
<text x="0" y="0" font-size="5.80" transform="translate(187.53,306.42) rotate(-90)">α</text>
<text x="0" y="0" font-size="4.20" style="stroke-width:0.45px" transform="translate(185.20,300.13) rotate(-90)">+</text>
<rect x="286.35" y="269.15" width="5.80" height="3.15" fill="#a8a8a8" stroke="#000" stroke-width="0.9"/>
<text x="296.14" y="272.55" font-size="5.10" textLength="25.88" lengthAdjust="spacingAndGlyphs" transform="rotate(0.05 296.14 272.55)">No Reagent</text>
<rect x="286.35" y="276.15" width="5.80" height="3.15" fill="#000" stroke="#000" stroke-width="0.9"/>
<text x="296.28" y="279.58" font-size="5.10" textLength="24.54" lengthAdjust="spacingAndGlyphs" transform="rotate(0.05 296.28 279.58)">scFv CD16</text>
<rect x="286.35" y="283.15" width="5.80" height="3.15" fill="url(#hsG)" stroke="#000" stroke-width="0.9"/>
<text x="296.26" y="286.65" font-size="5.10" textLength="40.28" lengthAdjust="spacingAndGlyphs" transform="rotate(0.05 296.26 286.65)">CD16xCD33 BiKE</text>
<text x="346.42" y="279.95" font-size="11.20" textLength="9.96" lengthAdjust="spacingAndGlyphs" transform="rotate(0.05 346.42 279.95)">H</text>
<line x1="375.00" y1="288.00" x2="375.00" y2="350.00" stroke="#000" stroke-width="1.0"/>
<line x1="373.30" y1="349.50" x2="375.00" y2="349.50" stroke="#000" stroke-width="1.0"/>
<text x="369.93" y="351.08" font-size="4.60" transform="rotate(0.05 369.93 351.08)">0</text>
<line x1="373.30" y1="334.12" x2="375.00" y2="334.12" stroke="#000" stroke-width="1.0"/>
<text x="367.38" y="335.71" font-size="4.60" transform="rotate(0.05 367.38 335.71)">10</text>
<line x1="373.30" y1="318.75" x2="375.00" y2="318.75" stroke="#000" stroke-width="1.0"/>
<text x="367.38" y="320.33" font-size="4.60" transform="rotate(0.05 367.38 320.33)">20</text>
<line x1="373.30" y1="303.38" x2="375.00" y2="303.38" stroke="#000" stroke-width="1.0"/>
<text x="367.38" y="304.95" font-size="4.60" transform="rotate(0.05 367.38 304.95)">30</text>
<line x1="373.30" y1="288.00" x2="375.00" y2="288.00" stroke="#000" stroke-width="1.0"/>
<text x="367.38" y="289.58" font-size="4.60" transform="rotate(0.05 367.38 289.58)">40</text>
<line x1="374.50" y1="349.50" x2="519.60" y2="349.50" stroke="#000" stroke-width="1.0"/>
<path d="M379.75,349.50 L379.75,348.90 Q379.75,347.34 381.63,347.34 L383.97,347.34 Q385.85,347.34 385.85,348.90 L385.85,349.50 Z" fill="#a8a8a8" stroke="#000" stroke-width="0.9"/>
<path d="M389.65,349.50 L389.65,348.41 Q389.65,346.41 392.05,346.41 L393.35,346.41 Q395.75,346.41 395.75,348.41 L395.75,349.50 Z" fill="#000" stroke="#000" stroke-width="0.9"/>
<rect x="399.55" y="308.44" width="6.10" height="41.06" fill="url(#hsH)" stroke="#000" stroke-width="0.9"/>
<line x1="402.60" y1="307.99" x2="402.60" y2="303.38" stroke="#000" stroke-width="0.9"/>
<line x1="400.70" y1="303.38" x2="404.50" y2="303.38" stroke="#000" stroke-width="0.9"/>
<text x="398.19" y="303.38" font-size="4.80" letter-spacing="0.45" style="stroke-width:0.5px" transform="rotate(0.05 398.19 303.38)">****</text>
<line x1="392.70" y1="349.50" x2="392.70" y2="351.30" stroke="#000" stroke-width="0.9"/>
<path d="M415.85,349.50 L415.85,349.09 Q415.85,347.80 417.40,347.80 L420.40,347.80 Q421.95,347.80 421.95,349.09 L421.95,349.50 Z" fill="#a8a8a8" stroke="#000" stroke-width="0.9"/>
<path d="M425.75,349.50 L425.75,347.64 Q425.75,345.64 428.15,345.64 L429.45,345.64 Q431.85,345.64 431.85,347.64 L431.85,349.50 Z" fill="#000" stroke="#000" stroke-width="0.9"/>
<rect x="435.65" y="329.19" width="6.10" height="20.31" fill="url(#hsH)" stroke="#000" stroke-width="0.9"/>
<line x1="438.70" y1="328.74" x2="438.70" y2="325.67" stroke="#000" stroke-width="0.9"/>
<line x1="436.80" y1="325.67" x2="440.60" y2="325.67" stroke="#000" stroke-width="0.9"/>
<text x="435.45" y="325.67" font-size="4.80" letter-spacing="0.45" style="stroke-width:0.5px" transform="rotate(0.05 435.45 325.67)">***</text>
<line x1="428.80" y1="349.50" x2="428.80" y2="351.30" stroke="#000" stroke-width="0.9"/>
<path d="M452.05,349.50 L452.05,348.90 Q452.05,347.34 453.93,347.34 L456.27,347.34 Q458.15,347.34 458.15,348.90 L458.15,349.50 Z" fill="#a8a8a8" stroke="#000" stroke-width="0.9"/>
<path d="M461.95,349.50 L461.95,348.72 Q461.95,346.88 464.16,346.88 L465.84,346.88 Q468.05,346.88 468.05,348.72 L468.05,349.50 Z" fill="#000" stroke="#000" stroke-width="0.9"/>
<rect x="471.85" y="333.04" width="6.10" height="16.46" fill="url(#hsH)" stroke="#000" stroke-width="0.9"/>
<line x1="474.90" y1="332.59" x2="474.90" y2="329.51" stroke="#000" stroke-width="0.9"/>
<line x1="473.00" y1="329.51" x2="476.80" y2="329.51" stroke="#000" stroke-width="0.9"/>
<text x="470.49" y="329.52" font-size="4.80" letter-spacing="0.45" style="stroke-width:0.5px" transform="rotate(0.05 470.49 329.52)">****</text>
<line x1="465.00" y1="349.50" x2="465.00" y2="351.30" stroke="#000" stroke-width="0.9"/>
<path d="M488.05,349.50 L488.05,347.80 Q488.05,345.80 490.45,345.80 L491.75,345.80 Q494.15,345.80 494.15,347.80 L494.15,349.50 Z" fill="#a8a8a8" stroke="#000" stroke-width="0.9"/>
<path d="M497.95,349.50 L497.95,348.90 Q497.95,347.34 499.83,347.34 L502.17,347.34 Q504.05,347.34 504.05,348.90 L504.05,349.50 Z" fill="#000" stroke="#000" stroke-width="0.9"/>
<rect x="507.85" y="333.34" width="6.10" height="16.16" fill="url(#hsH)" stroke="#000" stroke-width="0.9"/>
<line x1="510.90" y1="332.89" x2="510.90" y2="329.51" stroke="#000" stroke-width="0.9"/>
<line x1="509.00" y1="329.51" x2="512.80" y2="329.51" stroke="#000" stroke-width="0.9"/>
<text x="507.65" y="329.52" font-size="4.80" letter-spacing="0.45" style="stroke-width:0.5px" transform="rotate(0.05 507.65 329.52)">***</text>
<line x1="501.00" y1="349.50" x2="501.00" y2="351.30" stroke="#000" stroke-width="0.9"/>
<line x1="474.20" y1="321.00" x2="510.40" y2="321.00" stroke="#000" stroke-width="1.0"/>
<line x1="474.20" y1="319.40" x2="474.20" y2="322.60" stroke="#000" stroke-width="1.0"/>
<line x1="510.40" y1="319.40" x2="510.40" y2="322.60" stroke="#000" stroke-width="1.0"/>
<text x="481.42" y="318.03" font-size="5.70" textLength="3.15" lengthAdjust="spacingAndGlyphs" font-style="italic" transform="rotate(0.05 481.42 318.03)">p</text>
<text x="486.59" y="318.03" font-size="5.70" textLength="17.08" lengthAdjust="spacingAndGlyphs" transform="rotate(0.05 486.59 318.03)">= 0.99</text>
<text x="380.93" y="357.14" font-size="4.40" textLength="23.93" lengthAdjust="spacingAndGlyphs" transform="rotate(0.05 380.93 357.14)">Normal PB</text>
<text x="387.22" y="362.64" font-size="4.40" textLength="10.95" lengthAdjust="spacingAndGlyphs" transform="rotate(0.05 387.22 362.64)">(n=4)</text>
<text x="416.73" y="357.14" font-size="4.40" textLength="24.63" lengthAdjust="spacingAndGlyphs" transform="rotate(0.05 416.73 357.14)">Normal BM</text>
<text x="423.12" y="362.64" font-size="4.40" textLength="11.16" lengthAdjust="spacingAndGlyphs" transform="rotate(0.05 423.12 362.64)">(n=4)</text>
<text x="455.33" y="357.02" font-size="4.40" textLength="18.22" lengthAdjust="spacingAndGlyphs" transform="rotate(0.05 455.33 357.02)">MDS PB</text>
<text x="457.40" y="362.64" font-size="4.40" textLength="14.59" lengthAdjust="spacingAndGlyphs" transform="rotate(0.05 457.40 362.64)">(n=10)</text>
<text x="491.03" y="357.02" font-size="4.40" textLength="18.93" lengthAdjust="spacingAndGlyphs" transform="rotate(0.05 491.03 357.02)">MDS BM</text>
<text x="493.51" y="362.64" font-size="4.40" textLength="14.39" lengthAdjust="spacingAndGlyphs" transform="rotate(0.05 493.51 362.64)">(n=10)</text>
<text x="0" y="0" font-size="6.00" textLength="36.93" lengthAdjust="spacingAndGlyphs" transform="translate(361.20,342.71) rotate(-90)">% Cells IFN-</text>
<text x="0" y="0" font-size="5.60" transform="translate(361.30,305.21) rotate(-90)">γ</text>
<text x="0" y="0" font-size="4.20" style="stroke-width:0.45px" transform="translate(359.20,299.73) rotate(-90)">+</text>
<rect x="463.85" y="269.35" width="6.80" height="3.35" fill="#a8a8a8" stroke="#000" stroke-width="0.9"/>
<text x="474.11" y="272.89" font-size="5.20" textLength="28.01" lengthAdjust="spacingAndGlyphs" transform="rotate(0.05 474.11 272.89)">No Reagent</text>
<rect x="463.85" y="276.25" width="6.80" height="3.35" fill="#000" stroke="#000" stroke-width="0.9"/>
<text x="474.27" y="279.81" font-size="5.20" textLength="25.96" lengthAdjust="spacingAndGlyphs" transform="rotate(0.05 474.27 279.81)">scFv CD16</text>
<rect x="463.85" y="283.05" width="6.80" height="3.35" fill="url(#hsH)" stroke="#000" stroke-width="0.9"/>
<text x="474.25" y="286.69" font-size="5.20" textLength="42.20" lengthAdjust="spacingAndGlyphs" transform="rotate(0.05 474.25 286.69)">CD16xCD33 BiKE</text>
</svg></body></html>
